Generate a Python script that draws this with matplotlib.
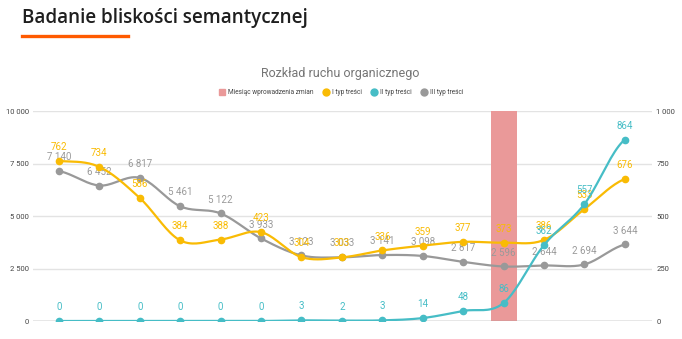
import numpy as np
import matplotlib
matplotlib.use("Agg")
import matplotlib.pyplot as plt
from matplotlib.lines import Line2D

# --- data ---
months = list(range(15))
typ_1 = [762, 734, 586, 384, 388, 423, 304, 303, 336, 359, 377, 373, 386, 533, 676]
typ_2 = [0, 0, 0, 0, 0, 0, 3, 2, 3, 14, 48, 86, 362, 557, 864]
typ_3 = [7140, 6452, 6817, 5461, 5122, 3933, 3123, 3033, 3141, 3098, 2817, 2596, 2644, 2694, 3644]
change_month = 11
left_ticks = [0, 2500, 5000, 7500, 10000]
right_ticks = [0, 250, 500, 750, 1000]

YELLOW = "#f9bb04"
TEAL = "#46bdc6"
GRAY = "#999999"
PINK = "#ea9999"
FONT = "Roboto"


def smooth(x, y, n=20):
    # cardinal (catmull-rom) spline through the points, just for drawing
    x = np.asarray(x, float)
    y = np.asarray(y, float)
    px = np.concatenate([[2 * x[0] - x[1]], x, [2 * x[-1] - x[-2]]])
    py = np.concatenate([[y[0]], y, [y[-1]]])
    xs, ys = [], []
    t = np.linspace(0, 1, n, endpoint=False)
    for i in range(1, len(px) - 2):
        m1x = (px[i + 1] - px[i - 1]) / 2
        m2x = (px[i + 2] - px[i]) / 2
        m1y = (py[i + 1] - py[i - 1]) / 2
        m2y = (py[i + 2] - py[i]) / 2
        h00 = 2 * t**3 - 3 * t**2 + 1
        h10 = t**3 - 2 * t**2 + t
        h01 = -2 * t**3 + 3 * t**2
        h11 = t**3 - t**2
        xs.append(h00 * px[i] + h10 * m1x + h01 * px[i + 1] + h11 * m2x)
        ys.append(h00 * py[i] + h10 * m1y + h01 * py[i + 1] + h11 * m2y)
    xs.append([x[-1]])
    ys.append([y[-1]])
    return np.concatenate(xs), np.concatenate(ys)


def fmt(v):
    return f"{v:,}".replace(",", " ")


fig = plt.figure(figsize=(6.82, 3.39), dpi=100)
fig.patch.set_facecolor("white")

# header
fig.text(22 / 682, 1 - 18 / 339, "Badanie bliskości semantycznej", fontsize=13.6,
         fontfamily="Open Sans", fontweight="semibold", color="#1f1f1f", va="center", ha="left")
fig.add_artist(Line2D([22 / 682, 128 / 682], [1 - 36 / 339, 1 - 36 / 339],
                      color="#ff5a00", linewidth=2.4, transform=fig.transFigure))

ax = fig.add_axes([33 / 682, 1 - 321 / 339, 619 / 682, 210 / 339])
ax2 = ax.twinx()

# bar for the month of change
ax.bar([change_month], [10000], width=0.64, color=PINK, zorder=1)

ax.set_ylim(0, 10000)
ax2.set_ylim(0, 1000)
ax.set_xlim(-0.64, 14.67)
ax.set_yticks(left_ticks)
ax.set_yticklabels([fmt(v) for v in left_ticks])
ax2.set_yticks(right_ticks)
ax2.set_yticklabels([fmt(v) for v in right_ticks])
ax.set_xticks([])
ax.grid(axis="y", color="#e3e3e3", linewidth=1.0, zorder=0)
ax.set_axisbelow(True)
for a in (ax, ax2):
    for s in a.spines.values():
        s.set_visible(False)
    a.tick_params(axis="y", length=0, labelsize=5.5, labelcolor="#444444", pad=3)
    for lbl in a.get_yticklabels():
        lbl.set_fontfamily(FONT)
ax.axhline(0, color="#9e9e9e", linewidth=1.0, zorder=2)

# series
sx, sy = smooth(months, typ_3)
ax.plot(sx, sy, color=GRAY, linewidth=1.6, zorder=3)
ax.plot(months, typ_3, "o", color=GRAY, markersize=4.5, zorder=3)
sx1, sy1 = smooth(months, typ_1)
ax2.plot(sx1, sy1, color=YELLOW, linewidth=1.6, zorder=3)
ax2.plot(months, typ_1, "o", color=YELLOW, markersize=4.5, zorder=3)
sx2, sy2 = smooth(months, typ_2)
ax2.plot(sx2, sy2, color=TEAL, linewidth=1.6, zorder=4)
ax2.plot(months, typ_2, "o", color=TEAL, markersize=4.5, zorder=4)

# data labels
lab_kw = dict(textcoords="offset points", ha="center", va="center", fontsize=7, fontfamily=FONT)
for m, v in zip(months, typ_3):
    ax.annotate(fmt(v), (m, v), xytext=(0, 10), color="#9a9a9a", **lab_kw)
for m, v in zip(months, typ_1):
    ax2.annotate(fmt(v), (m, v), xytext=(0, 10), color=YELLOW, **lab_kw)
for m, v in zip(months, typ_2):
    ax2.annotate(fmt(v), (m, v), xytext=(0, 10), color=TEAL, **lab_kw)

# chart title and legend
fig.text(340 / 682, 1 - 73 / 339, "Rozkład ruchu organicznego", fontsize=9,
         fontfamily=FONT, color="#757575", ha="center", va="center")
handles = [
    Line2D([], [], marker="s", linestyle="none", color=PINK, markersize=5),
    Line2D([], [], marker="o", linestyle="none", color=YELLOW, markersize=5),
    Line2D([], [], marker="o", linestyle="none", color=TEAL, markersize=5),
    Line2D([], [], marker="o", linestyle="none", color=GRAY, markersize=5),
]
labels = ["Miesiąc wprowadzenia zmian", "I typ treści", "II typ treści", "III typ treści"]
leg = fig.legend(handles, labels, loc="center", bbox_to_anchor=(341 / 682, 1 - 93 / 339), ncol=4,
                 frameon=False, prop={"family": FONT, "size": 4.7}, handletextpad=0.4,
                 columnspacing=1.4, handlelength=1.0)
for t in leg.get_texts():
    t.set_color("#444444")

fig.savefig("out.png", dpi=100)
